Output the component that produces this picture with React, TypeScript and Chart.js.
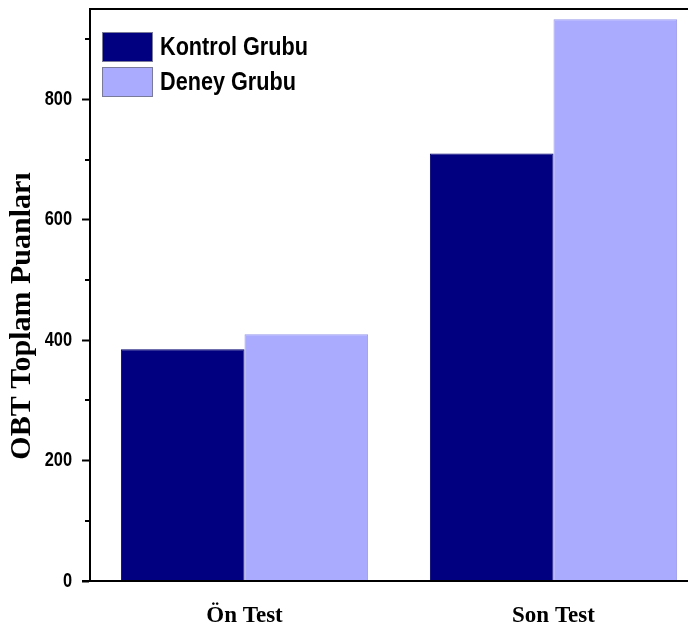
import { useEffect, useRef } from 'react';
import { Chart, registerables } from 'chart.js';

Chart.register(...registerables);

const categories = ['Ön Test', 'Son Test'];
const seriesNames = ['Kontrol Grubu', 'Deney Grubu'];
const kontrolValues = [385, 710];
const deneyValues = [410, 933];
const seriesColors = ['#000080', '#AAAAFF'];
const seriesBorders = ['#000070', '#9A9AEE'];
const yTickValues = [0, 200, 400, 600, 800];
const yMinorTickValues = [100, 300, 500, 700, 900];
const yAxisTitle = 'OBT Toplam Puanları';
const yMax = 950;

const SANS = '"Liberation Sans", Arial, sans-serif';
const SERIF = '"Liberation Serif", "Times New Roman", serif';

// compress y tick labels horizontally (narrow look) while Chart.js draws them
const narrowTicksPlugin = {
  id: 'narrowTicks',
  afterLayout(chart: any) {
    const y = chart.scales.y;
    if (!y || y.__narrowWrapped) return;
    const orig = y.drawLabels.bind(y);
    y.drawLabels = function (area: any) {
      const ctx = this.ctx;
      const ax = this.right - 18;
      ctx.save();
      ctx.translate(ax, 0);
      ctx.scale(0.82, 1);
      ctx.translate(-ax, 0);
      orig(area);
      ctx.restore();
    };
    y.__narrowWrapped = true;
  },
};

const decorPlugin = {
  id: 'decor',
  afterDatasetsDraw(chart: any) {
    const { ctx, chartArea, scales } = chart;
    const y = scales.y;
    ctx.save();
    ctx.strokeStyle = '#000';
    ctx.lineWidth = 2;
    ctx.beginPath();
    ctx.moveTo(chartArea.left, chartArea.top);
    ctx.lineTo(chartArea.right, chartArea.top);
    ctx.moveTo(chartArea.left, chartArea.top);
    ctx.lineTo(chartArea.left, chartArea.bottom);
    ctx.moveTo(chartArea.left - 8, chartArea.bottom);
    ctx.lineTo(chartArea.right, chartArea.bottom);
    ctx.moveTo(chartArea.right, chartArea.top);
    ctx.lineTo(chartArea.right, chartArea.bottom);
    ctx.stroke();
    // minor ticks
    ctx.beginPath();
    for (const v of yMinorTickValues) {
      const py = Math.round(y.getPixelForValue(v));
      ctx.moveTo(chartArea.left - 5, py);
      ctx.lineTo(chartArea.left, py);
    }
    ctx.stroke();
    // legend
    const bx = chartArea.left + 12;
    let by = chartArea.top + 23;
    for (let i = 0; i < seriesNames.length; i++) {
      ctx.fillStyle = seriesColors[i];
      ctx.fillRect(bx, by, 51, 30);
      ctx.strokeStyle = '#7a7a9a';
      ctx.lineWidth = 1;
      ctx.strokeRect(bx + 0.5, by + 0.5, 50, 29);
      ctx.save();
      const tx = bx + 58;
      ctx.translate(tx, by + 16);
      ctx.scale(0.866, 1);
      ctx.fillStyle = '#000';
      ctx.font = `bold 25px ${SANS}`;
      ctx.textAlign = 'left';
      ctx.textBaseline = 'middle';
      ctx.fillText(seriesNames[i], 0, 0);
      ctx.restore();
      by += 35;
    }
    // y axis title
    ctx.translate(22, 316);
    ctx.rotate(-Math.PI / 2);
    ctx.font = `bold 30px ${SERIF}`;
    ctx.textAlign = 'center';
    ctx.textBaseline = 'middle';
    ctx.fillStyle = '#000';
    ctx.fillText(yAxisTitle, 0, 0);
    ctx.restore();
  },
};

export default function App() {
  const ref = useRef<HTMLCanvasElement>(null);
  useEffect(() => {
    document.body.style.margin = '0';
    const chart = new Chart(ref.current!, {
      type: 'bar',
      data: {
        labels: categories,
        datasets: [
          {
            label: seriesNames[0],
            data: kontrolValues,
            backgroundColor: seriesColors[0],
            borderColor: seriesBorders[0],
            borderWidth: 1,
            barPercentage: 1.0,
            categoryPercentage: 0.8,
          },
          {
            label: seriesNames[1],
            data: deneyValues,
            backgroundColor: seriesColors[1],
            borderColor: seriesBorders[1],
            borderWidth: 1,
            barPercentage: 1.0,
            categoryPercentage: 0.8,
          },
        ],
      },
      options: {
        responsive: false,
        animation: false,
        devicePixelRatio: 1,
        layout: { padding: { left: 0, top: 9, right: 12, bottom: 0 } },
        plugins: {
          legend: { display: false },
          tooltip: { enabled: false },
        },
        scales: {
          x: {
            grid: { display: false },
            border: { display: false },
            ticks: {
              color: '#000',
              padding: 13,
              font: { family: SERIF, size: 23, weight: 'bold' },
            },
            afterFit: (scale: any) => {
              scale.height = 51;
              scale.paddingLeft = 0;
              scale.paddingRight = 0;
            },
          },
          y: {
            min: 0,
            max: yMax,
            grid: {
              drawOnChartArea: false,
              tickLength: 8,
              tickWidth: 2,
              tickColor: '#000',
            },
            border: { display: true, color: '#000', width: 2 },
            ticks: {
              stepSize: 200,
              color: '#000',
              padding: 10,
              font: { family: SANS, size: 20, weight: 'bold' },
            },
            afterBuildTicks: (scale: any) => {
              scale.ticks = scale.ticks.filter((t: any) => yTickValues.includes(t.value));
            },
            afterFit: (scale: any) => {
              scale.width = 90;
              scale.paddingTop = 0;
              scale.paddingBottom = 0;
            },
          },
        },
      },
      plugins: [narrowTicksPlugin, decorPlugin],
    } as any);
    return () => chart.destroy();
  }, []);
  return (
    <div style={{ width: 688, height: 632, overflow: 'hidden', position: 'relative', background: '#fff' }}>
      <canvas ref={ref} width={720} height={632} style={{ display: 'block', width: 720, height: 632 }} />
    </div>
  );
}
